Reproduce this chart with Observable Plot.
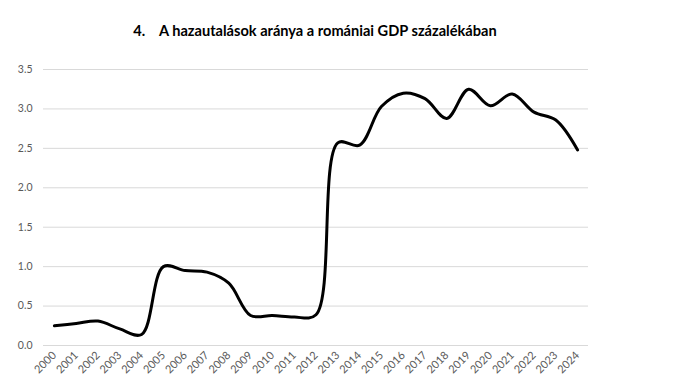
<!DOCTYPE html>
<html><head><meta charset="utf-8">
<script src="https://cdn.jsdelivr.net/npm/d3@7"></script>
<script src="https://cdn.jsdelivr.net/npm/@observablehq/plot@0.6"></script>
<style>
body{margin:0;background:#fff;}
#title{height:50px;box-sizing:border-box;padding-top:22px;width:630px;text-align:center;font-family:Lato,"Open Sans",sans-serif;font-weight:bold;font-size:14.6px;color:#000;}
</style></head><body>
<div id="title">4.&nbsp;&nbsp;&nbsp;&nbsp;A hazautalások aránya a romániai GDP százalékában</div>
<div id="chart"></div>
<script>
const years = [2000,2001,2002,2003,2004,2005,2006,2007,2008,2009,2010,2011,2012,2013,2014,2015,2016,2017,2018,2019,2020,2021,2022,2023,2024];
const values = [0.25,0.28,0.31,0.21,0.14,1.00,0.95,0.93,0.79,0.38,0.38,0.36,0.39,2.57,2.54,3.03,3.20,3.13,2.88,3.25,3.04,3.19,2.96,2.86,2.48];
const yTicks = [0,0.5,1,1.5,2,2.5,3,3.5];
const data = years.map((y,i)=>({year:y, value:values[i]}));
const plot = Plot.plot({
  width:690, height:339,
  marginTop:19, marginBottom:44, marginLeft:43, marginRight:102,
  style:{fontFamily:"Lato, 'Open Sans', sans-serif", fontSize:"10.5px", color:"#595959", background:"#fff"},
  x:{type:"linear", domain:[years[0]-0.5, years[years.length-1]+0.5], ticks:years, tickFormat:d=>String(d), label:null, tickSize:0, tickRotate:-45, tickPadding:8},
  y:{domain:[0,3.5], ticks:yTicks, tickFormat:d3.format(".1f"), label:null, tickSize:0, tickPadding:11},
  marks:[
    Plot.ruleY(yTicks, {stroke:"#d9d9d9", strokeWidth:1}),
    Plot.line(data, {x:"year", y:"value", curve:"catmull-rom", stroke:"#000", strokeWidth:3, strokeLinejoin:"round", strokeLinecap:"round"})
  ]
});
plot.querySelectorAll("[aria-label='x-axis tick label'] text").forEach(t=>t.style.fontSize="11px");
document.getElementById("chart").appendChild(plot);
</script>
</body></html>
